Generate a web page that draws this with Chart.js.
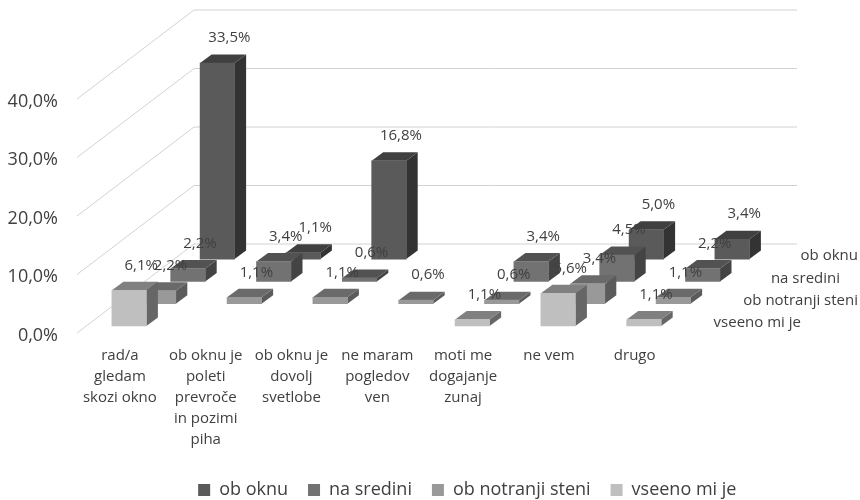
<!DOCTYPE html>
<html>
<head>
<meta charset="utf-8">
<script src="https://cdn.jsdelivr.net/npm/chart.js@4"></script>
<style>
  html, body { margin: 0; background: #fff; }
  canvas { display: block; }
</style>
</head>
<body>
<canvas id="chart" width="860" height="500"></canvas>
<script>
const categories = [
  ["rad/a", "gledam", "skozi okno"],
  ["ob oknu je", "poleti", "prevroče", "in pozimi", "piha"],
  ["ob oknu je", "dovolj", "svetlobe"],
  ["ne maram", "pogledov", "ven"],
  ["moti me", "dogajanje", "zunaj"],
  ["ne vem"],
  ["drugo"],
];
const seriesNames = ["ob oknu", "na sredini", "ob notranji steni", "vseeno mi je"];
const obOknu = [33.5, 1.1, 16.8, null, null, 5.0, 3.4];
const naSredini = [2.2, 3.4, 0.6, null, 3.4, 4.5, 2.2];
const obNotranjiSteni = [2.2, 1.1, 1.1, 0.6, 0.6, 3.4, 1.1];
const vseenoMiJe = [6.1, null, null, null, 1.1, 5.6, 1.1];
const seriesValues = [obOknu, naSredini, obNotranjiSteni, vseenoMiJe];

const FONT = "'Open Sans', sans-serif";
const TEXT = "#404040";
const frontColors = ["#5a5a5a", "#727272", "#999999", "#bfbfbf"];
const sideColors = ["#333333", "#444444", "#5b5b5b", "#666666"];
const topColors = ["#404040", "#525252", "#6a6a6a", "#808080"];
const depthLabelRight = [858, 840, 858, 801]; // row names on the right do not line up

// offset of each row from the flat bar chart position
const rowStepX = 29.4, rowStepY = 22.3, frontX = 9.25, frontY = -7;
const rowOffset = (i) => {
  const back = seriesNames.length - 1 - i;
  return { x: frontX + back * rowStepX, y: frontY - back * rowStepY };
};
const depthX = 11.5, depthY = 8.5; // depth of one bar
const wallX = 117, wallY = 89;

const poly = (ctx, color, pts) => {
  ctx.fillStyle = color;
  ctx.beginPath();
  pts.forEach((p, i) => (i ? ctx.lineTo(p[0], p[1]) : ctx.moveTo(p[0], p[1])));
  ctx.closePath();
  ctx.fill();
};

const fake3d = {
  id: "fake3d",
  afterLayout(chart) {
    // legend sits centred under the whole picture, lower than Chart.js puts it
    const legend = chart.legend;
    legend.left += 128.5;
    legend.right += 128.5;
    const shift = 490 - (legend.top + legend.options.labels.padding + 9);
    legend.top += shift;
    legend.bottom += shift;
  },
  beforeDatasetsDraw(chart) {
    const { ctx, chartArea, scales } = chart;
    ctx.save();
    ctx.strokeStyle = "#d2d2d2";
    ctx.lineWidth = 1;
    scales.y.ticks.forEach((t) => {
      const y = scales.y.getPixelForValue(t.value);
      ctx.beginPath();
      ctx.moveTo(chartArea.left, y);
      ctx.lineTo(chartArea.left + wallX, y - wallY);
      ctx.lineTo(797, y - wallY);
      ctx.stroke();
    });
    ctx.restore();
  },
  beforeDatasetDraw(chart, args) {
    const { ctx } = chart;
    const i = args.index;
    const off = rowOffset(i);
    ctx.save();
    ctx.translate(off.x, off.y);
    args.meta.data.forEach((bar, n) => {
      if (seriesValues[i][n] == null) return;
      const { x, y, base, width } = bar.getProps(["x", "y", "base", "width"], true);
      const l = x - width / 2, r = x + width / 2;
      poly(ctx, sideColors[i], [[r, y], [r + depthX, y - depthY], [r + depthX, base - depthY], [r, base]]);
      poly(ctx, topColors[i], [[l, y], [l + depthX, y - depthY], [r + depthX, y - depthY], [r, y]]);
      bar.draw(ctx);
    });
    ctx.restore();
    return false;
  },
  afterDatasetsDraw(chart) {
    const { ctx } = chart;
    ctx.save();
    ctx.fillStyle = TEXT;
    ctx.textBaseline = "middle";
    ctx.font = "15px " + FONT;
    ctx.textAlign = "center";
    seriesValues.forEach((vals, i) => {
      const off = rowOffset(i);
      chart.getDatasetMeta(i).data.forEach((bar, n) => {
        if (vals[n] == null) return;
        const { x, y } = bar.getProps(["x", "y"], true);
        ctx.fillText(vals[n].toFixed(1).replace(".", ",") + "%", x + off.x + 12, y + off.y - 25);
      });
    });
    ctx.textAlign = "right";
    seriesNames.forEach((name, i) => {
      const off = rowOffset(i);
      ctx.fillText(name, depthLabelRight[i], chart.scales.y.getPixelForValue(0) + off.y - 3);
    });
    ctx.restore();
  },
};

new Chart(document.getElementById("chart"), {
  type: "bar",
  data: {
    labels: categories,
    datasets: seriesNames.map((name, i) => ({
      label: name,
      data: seriesValues[i],
      backgroundColor: frontColors[i],
      borderWidth: 0,
      grouped: false,
      barThickness: 34.5,
      order: 3 - i,
    })),
  },
  options: {
    responsive: false,
    animation: false,
    layout: { padding: { top: 99, right: 182.4, left: 0, bottom: 0 } },
    plugins: {
      tooltip: { enabled: false },
      legend: {
        position: "bottom",
        labels: {
          color: TEXT,
          boxWidth: 12,
          boxHeight: 12,
          padding: 20,
          font: { family: FONT, size: 18 },
          sort: (a, b) => a.datasetIndex - b.datasetIndex,
        },
      },
    },
    scales: {
      x: {
        grid: { display: false, drawTicks: false },
        border: { display: false },
        afterFit: (s) => { s.height = 119; },
        ticks: {
          autoSkip: false,
          maxRotation: 0,
          color: TEXT,
          padding: 12,
          font: { family: FONT, size: 15, lineHeight: 1.4 },
        },
      },
      y: {
        min: 0,
        max: 40,
        grid: { display: false, drawTicks: false },
        border: { display: false },
        afterFit: (s) => { s.width = 77; },
        ticks: {
          stepSize: 10,
          color: TEXT,
          padding: 19,
          labelOffset: 2.5,
          font: { family: FONT, size: 18 },
          callback: (v) => v.toFixed(1).replace(".", ",") + "%",
        },
      },
    },
  },
  plugins: [fake3d],
});
</script>
</body>
</html>
